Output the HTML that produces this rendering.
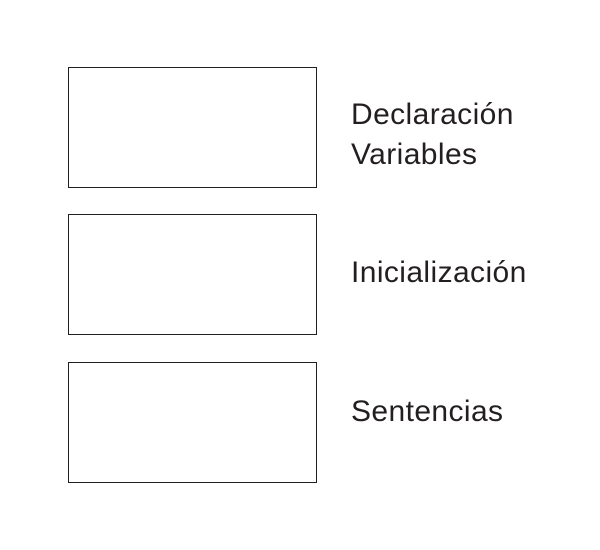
<!DOCTYPE html>
<html><head><meta charset="utf-8"><style>
html,body{margin:0;padding:0;background:#fff;width:600px;height:550px;overflow:hidden}
.b{position:absolute;left:68px;border:1px solid #231f20;box-sizing:border-box}
.t{position:absolute;left:351px;font-family:"Liberation Sans",sans-serif;font-size:30px;letter-spacing:0.4px;color:#231f20;line-height:40px}
</style></head><body>
<div class="b" style="top:67px;width:249px;height:121px"></div>
<div class="b" style="top:214px;width:249px;height:121px"></div>
<div class="b" style="top:362px;width:249px;height:121px"></div>
<div class="t" style="top:95px">Declaración<br>Variables</div>
<div class="t" style="top:253px">Inicialización</div>
<div class="t" style="top:392px">Sentencias</div>
</body></html>
